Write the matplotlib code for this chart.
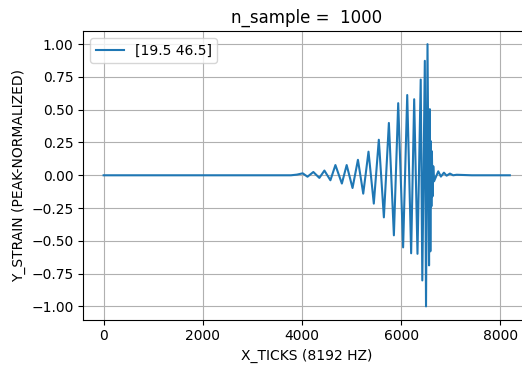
import numpy as np
import matplotlib
matplotlib.use("Agg")
import matplotlib.pyplot as plt

# waveform: sample index and peak-normalized strain at each turning point
x_ticks = [0, 3777, 3899, 4014, 4111, 4229, 4350, 4452, 4573, 4674, 4804,
           4901, 5019, 5128, 5235, 5341, 5448, 5549, 5651, 5752, 5853,
           5940, 6039, 6122, 6201, 6262, 6329, 6394, 6426, 6477, 6501,
           6531, 6562, 6578, 6588, 6598, 6609, 6619, 6633, 6647, 6663,
           6748, 6801, 6862, 6916, 6983, 7048, 7119, 7423, 8191]
y_strain = [0.0, 0.0, 0.005, 0.015, -0.011, 0.025, -0.020, 0.036, -0.038, 0.078, -0.063,
            0.078, -0.097, 0.118, -0.140, 0.180, -0.216, 0.271, -0.321, 0.399, -0.458,
            0.550, -0.550, 0.612, -0.595, 0.580, -0.599, 0.730, -0.802, 0.873, -1.0,
            1.0, -0.687, 0.504, -0.58, 0.26, -0.237, 0.183, -0.160, 0.069, -0.046,
            0.030, -0.010, 0.020, -0.003, 0.013, 0.0, 0.004, 0.0, 0.0]
label = "[19.5 46.5]"
n_sample = 1000

fig = plt.figure(figsize=(5.22, 3.67), dpi=100)
# axes run past the right edge, the reference is cropped there
ax = fig.add_axes([0.1596, 0.1294, 0.856, 0.786])

ax.plot(x_ticks, y_strain, color="tab:blue", lw=1.5, label=label)
ax.set_title(f"n_sample =  {n_sample}")
ax.set_xlabel("X_TICKS (8192 HZ)")
ax.set_ylabel("Y_STRAIN (PEAK-NORMALIZED)")
ax.set_yticks(np.arange(-1.0, 1.01, 0.25))
ax.set_xticks([0, 2000, 4000, 6000, 8000])
ax.grid(True)
ax.legend(loc="upper left")

fig.savefig("out.png", dpi=100)
